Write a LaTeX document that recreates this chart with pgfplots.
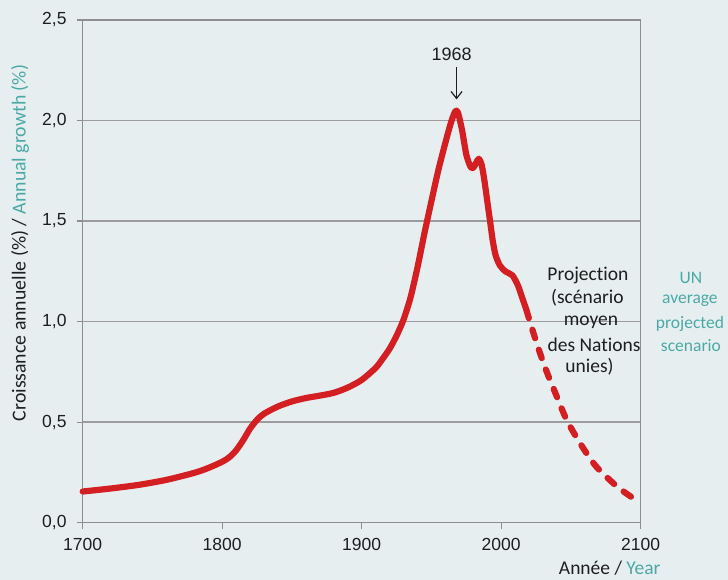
\documentclass[border=0pt]{standalone}
\usepackage{pgfplots}
\pgfplotsset{compat=1.18}
\usepackage{fontspec}
\setmainfont{Carlito}[Ligatures=NoCommon]
\newfontfamily\arialf{Liberation Sans}
\usetikzlibrary{arrows.meta}

\definecolor{bgcol}{HTML}{E6EEF0}
\definecolor{axgray}{HTML}{8E8E8E}
\definecolor{gridgray}{HTML}{9C9C9C}
\definecolor{curvered}{HTML}{D41F22}
\definecolor{tealtxt}{HTML}{4BA9A5}
\definecolor{txt}{HTML}{1E1E1E}

\begin{document}
\begin{tikzpicture}
% background, 1pt = 1px of the reference
\fill[bgcol] (-82.7pt,-57.3pt) rectangle (645.3pt,522.7pt);
\path[use as bounding box] (-82.7pt,-57.3pt) rectangle (645.3pt,522.7pt);

\begin{axis}[
    at={(0,0)}, anchor=south west,
    width=558pt, height=502.7pt, scale only axis,
    xmin=1700, xmax=2100, ymin=0, ymax=2.5,
    xtick={1700,1800,1900,2000,2100},
    ytick={0,0.5,1,1.5,2,2.5},
    clip=false,
    axis line style={draw=axgray, line width=1.5pt},
    ymajorgrids,
    grid style={gridgray, line width=1.4pt},
    tick align=outside, tick pos=left,
    major tick length=6pt,
    tick style={axgray, line width=1.3pt},
    /pgf/number format/assume math mode=true,
    xticklabel style={font=\arialf\fontsize{17.5}{20}\selectfont, text=txt,
        inner sep=0pt, yshift=-9.6pt, /pgf/number format/1000 sep={}},
    yticklabel style={font=\arialf\fontsize{17.5}{20}\selectfont, text=txt,
        inner sep=0pt, xshift=-10pt,
        /pgf/number format/fixed, /pgf/number format/fixed zerofill,
        /pgf/number format/precision=1, /pgf/number format/use comma},
]
% observed growth
\addplot[curvered, line width=6.2pt, smooth, tension=0.45, line cap=round, line join=round]
coordinates {
(1700,0.155) (1720,0.170) (1740,0.188) (1760,0.213) (1780,0.248) (1790,0.272)
(1800,0.303) (1805,0.325) (1810,0.360) (1815,0.410) (1820,0.468) (1825,0.512)
(1830,0.542) (1840,0.578) (1850,0.603) (1860,0.620) (1870,0.632) (1880,0.646)
(1890,0.672) (1900,0.710) (1910,0.770) (1915,0.815) (1920,0.865) (1925,0.930)
(1930,1.010) (1935,1.120) (1940,1.270) (1945,1.440) (1950,1.600) (1955,1.755)
(1960,1.890) (1964,1.990) (1967,2.045) (1969,2.040) (1972,1.950) (1975,1.830)
(1978,1.770) (1980,1.765) (1982,1.790) (1984,1.810) (1986,1.780) (1988,1.700)
(1990,1.600) (1992,1.500) (1994,1.400) (1996,1.330) (1999,1.280) (2003,1.250)
(2008,1.230) (2012,1.180) (2015,1.120) (2018,1.060)
};
% UN medium projection
\addplot[curvered, line width=6.2pt, smooth, tension=0.45, line cap=round,
    dash pattern=on 9pt off 12pt]
coordinates {
(2018,1.060) (2021,0.990) (2027,0.860) (2033,0.744) (2040,0.625) (2047,0.510)
(2057,0.390) (2068,0.280) (2083,0.180) (2095,0.120)
};

\draw[-{Straight Barb[length=7pt,width=11pt]}, line width=1.2pt, txt]
    (axis cs:1968,2.265) -- (axis cs:1968,2.105);
\node[font=\arialf\fontsize{18}{20}\selectfont, text=txt]
    at (axis cs:1964.5,2.33) {1968};

\begin{scope}[every node/.style={font=\fontsize{19.5}{20}\selectfont, text=txt}]
\node at (axis cs:2062.2,1.232) {Projection};
\node at (axis cs:2061.8,1.118) {(scénario};
\node at (axis cs:2064.3,0.998) {moyen};
\node at (axis cs:2066.6,0.884) {des Nations};
\node at (axis cs:2063.3,0.775) {unies)};
\end{scope}
\begin{scope}[every node/.style={font=\fontsize{17.5}{20}\selectfont, text=tealtxt}]
\node at (axis cs:2136.0,1.219) {UN};
\node at (axis cs:2135.3,1.104) {average};
\node at (axis cs:2135.3,0.990) {projected};
\node at (axis cs:2136.0,0.880) {scenario};
\end{scope}
\end{axis}

\node[rotate=90, font=\fontsize{19.8}{20}\selectfont, text=txt]
    at (-62.7pt,279.7pt) {Croissance annuelle (\%) / \textcolor{tealtxt}{Annual growth (\%)}};
\node[anchor=base, font=\fontsize{19.5}{20}\selectfont, text=txt]
    at (527pt,-52.3pt) {Année / \textcolor{tealtxt}{Year}};
\end{tikzpicture}
\end{document}
